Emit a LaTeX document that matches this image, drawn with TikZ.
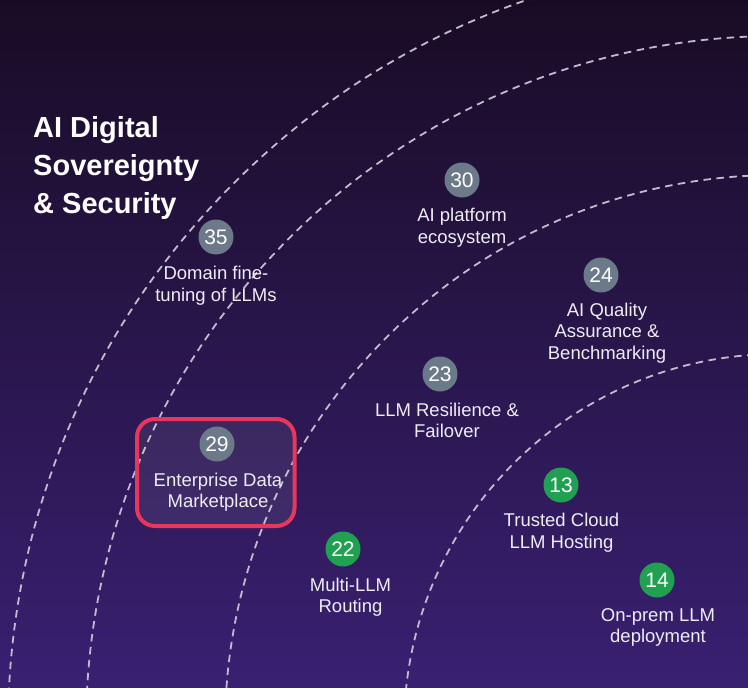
\documentclass[tikz,border=0pt]{standalone}
\usepackage{fontspec}
\setmainfont{Liberation Sans}
\usetikzlibrary{calc}
\definecolor{bgtop}{HTML}{180C25}
\definecolor{bgmid}{HTML}{29174F}
\definecolor{bgbot}{HTML}{3A2072}
\definecolor{arcc}{HTML}{C2BACD}
\definecolor{numgray}{HTML}{6C7989}
\definecolor{numgreen}{HTML}{22A052}
\definecolor{hlred}{HTML}{E8375C}
\definecolor{lbltext}{HTML}{EEEDF3}
\begin{document}
\begin{tikzpicture}[x=1pt,y=-1pt,
  num/.style={circle, minimum size=35pt, inner sep=0pt, text=white, font=\fontsize{21}{24}\selectfont},
  grayn/.style={num, fill=numgray},
  greenn/.style={num, fill=numgreen},
  lbl/.style={anchor=base, align=center, inner sep=0pt, text=lbltext, font=\fontsize{18.5}{21.5}\selectfont},
  ring/.style={draw=arcc, line width=1.8pt, dash pattern=on 7.5pt off 5.5pt},
  hl/.style={draw=hlred, line width=4pt, rounded corners=18pt, fill=white, fill opacity=0.07, minimum width=157.5pt, minimum height=107pt, inner sep=0pt},
  titlestyle/.style={anchor=base west, align=left, inner sep=0pt, text=white, font=\fontsize{29}{38}\selectfont\bfseries}
]
\useasboundingbox (0,0) rectangle (748,688);
\shade[top color=bgtop, middle color=bgmid, bottom color=bgbot] (0,0) rectangle (748,688);
\begin{scope}
  \clip (0,0) rectangle (748,688);
  \coordinate (ctr) at (778,728);
  \foreach \r in {770,692,553,374} \draw[ring] (ctr) circle[radius=\r pt];
\end{scope}
\node[hl] (box29) at (215.75,472.5) {};
% base anchor of a multi-line node = baseline of its last line
\node[titlestyle] (title) at (33,213) {AI Digital\\Sovereignty\\\& Security};
\node[grayn] (n30) at (462,180) {30};
\node[grayn] (n35) at (216,237) {35};
\node[grayn] (n24) at (601,275) {24};
\node[grayn] (n23) at (440,374) {23};
\node[grayn] (n29) at (217,444) {29};
\node[greenn] (n13) at (561,485) {13};
\node[greenn] (n22) at (343,549) {22};
\node[greenn] (n14) at (657,580) {14};
\node[lbl] (t30) at (462,243) {AI platform\\ecosystem};
\node[lbl] (t35) at (216,301) {Domain fine-\\tuning of LLMs};
\node[lbl] (t24) at (607,359) {AI Quality\\Assurance \&\\Benchmarking};
\node[lbl] (t23) at (447,437.5) {LLM Resilience \&\\Failover};
\node[lbl] (t29) at (218,507.5) {Enterprise Data\\Marketplace};
\node[lbl] (t13) at (561.5,548) {Trusted Cloud\\LLM Hosting};
\node[lbl] (t22) at (350.5,612.5) {Multi-LLM\\Routing};
\node[lbl] (t14) at (658,642.5) {On-prem LLM\\deployment};
\end{tikzpicture}
\end{document}
